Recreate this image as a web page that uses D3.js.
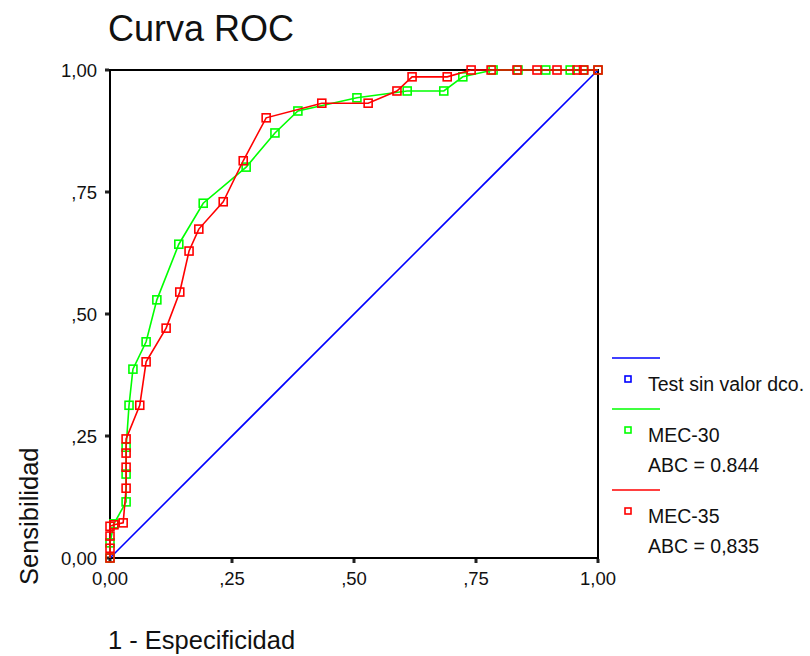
<!DOCTYPE html>
<html>
<head>
<meta charset="utf-8">
<script src="https://cdn.jsdelivr.net/npm/d3@7"></script>
<style>
  html, body { margin: 0; padding: 0; background: #fff; }
  svg text { font-family: "Liberation Sans", Arial, Helvetica, sans-serif; fill: #111; }
</style>
</head>
<body>
<svg id="chart" width="810" height="656"></svg>
<script>
// ---- data ----
const tickValues = [0, 0.25, 0.5, 0.75, 1];
const tickLabels = ["0,00", ",25", ",50", ",75", "1,00"];

const refX = [0, 1];
const refY = [0, 1];

const mec30X = [0, 0, 0.008, 0.033, 0.033, 0.033, 0.039, 0.047, 0.074, 0.096, 0.141, 0.191, 0.279, 0.338, 0.385, 0.506, 0.609, 0.684, 0.723, 0.785, 0.836, 0.893, 0.943, 0.97, 1.0];
const mec30Y = [0, 0.031, 0.07, 0.115, 0.172, 0.227, 0.313, 0.387, 0.443, 0.529, 0.643, 0.727, 0.801, 0.871, 0.916, 0.943, 0.957, 0.957, 0.986, 1, 1, 1, 1, 1, 1];

const mec35X = [0, 0, 0, 0, 0.008, 0.027, 0.033, 0.033, 0.033, 0.033, 0.061, 0.074, 0.115, 0.143, 0.162, 0.182, 0.232, 0.273, 0.320, 0.434, 0.529, 0.588, 0.619, 0.691, 0.740, 0.781, 0.834, 0.875, 0.916, 0.957, 0.971, 1.0];
const mec35Y = [0, 0.02, 0.045, 0.065, 0.068, 0.072, 0.143, 0.186, 0.215, 0.244, 0.313, 0.402, 0.471, 0.545, 0.629, 0.674, 0.730, 0.814, 0.902, 0.932, 0.932, 0.957, 0.986, 0.986, 1, 1, 1, 1, 1, 1, 1, 1];

const seriesNames = ["Test sin valor dco.", "MEC-30", "MEC-35"];
const seriesNotes = ["", "ABC = 0.844", "ABC = 0,835"];
const seriesColors = ["#0000ff", "#00ff00", "#ff0000"];

// ---- layout ----
const svg = d3.select("#chart");
const L = 110, R = 598, T = 70, B = 558;
const x = d3.scaleLinear().domain([0, 1]).range([L, R]);
const y = d3.scaleLinear().domain([0, 1]).range([B, T]);

// frame
svg.append("rect").attr("x", L).attr("y", T).attr("width", R - L).attr("height", B - T)
  .attr("fill", "none").attr("stroke", "#000").attr("stroke-width", 2);

// ticks (small square marks)
tickValues.forEach((v, i) => {
  svg.append("rect").attr("x", L - 5).attr("y", y(v) - 1.5).attr("width", 4).attr("height", 3).attr("fill", "#222");
  svg.append("rect").attr("x", x(v) - 1.5).attr("y", B + 1).attr("width", 3).attr("height", 4).attr("fill", "#222");
  svg.append("text").attr("x", L - 13).attr("y", y(v) + 6.5).attr("text-anchor", "end")
    .attr("font-size", 18.5).text(tickLabels[i]);
  svg.append("text").attr("x", x(v)).attr("y", 585).attr("text-anchor", "middle")
    .attr("font-size", 18.5).text(tickLabels[i]);
});

// series
const series = [
  {xs: refX, ys: refY},
  {xs: mec30X, ys: mec30Y},
  {xs: mec35X, ys: mec35Y}
];
const line = d3.line().x(d => x(d[0])).y(d => y(d[1]));
series.forEach((s, k) => {
  const pts = s.xs.map((v, i) => [v, s.ys[i]]);
  svg.append("path").datum(pts).attr("d", line).attr("fill", "none")
    .attr("stroke", seriesColors[k]).attr("stroke-width", 1.6);
  if (k > 0) {
    svg.append("g").selectAll("rect").data(pts).join("rect")
      .attr("x", d => x(d[0]) - 4).attr("y", d => y(d[1]) - 4)
      .attr("width", 8).attr("height", 8)
      .attr("fill", "none").attr("stroke", seriesColors[k]).attr("stroke-width", 1.6);
  }
});

// title
svg.append("text").attr("x", 108).attr("y", 41).attr("font-size", 36).text("Curva ROC");

// axis titles
svg.append("text").attr("x", 108).attr("y", 649).attr("font-size", 25.5).text("1 - Especificidad");
svg.append("text").attr("transform", "translate(38,585) rotate(-90)").attr("font-size", 25.5).text("Sensibilidad");

// legend
const legLineY = [358, 409, 490];
legLineY.forEach((ly, k) => {
  svg.append("line").attr("x1", 612).attr("x2", 660).attr("y1", ly).attr("y2", ly)
    .attr("stroke", seriesColors[k]).attr("stroke-width", 1.6);
  svg.append("rect").attr("x", 625).attr("y", ly + 18).attr("width", 6).attr("height", 6)
    .attr("fill", "none").attr("stroke", seriesColors[k]).attr("stroke-width", 1.6);
  svg.append("text").attr("x", 648).attr("y", ly + 33).attr("font-size", 19.5).text(seriesNames[k]);
  if (seriesNotes[k]) {
    svg.append("text").attr("x", 648).attr("y", ly + 63).attr("font-size", 19.5).text(seriesNotes[k]);
  }
});
</script>
</body>
</html>
